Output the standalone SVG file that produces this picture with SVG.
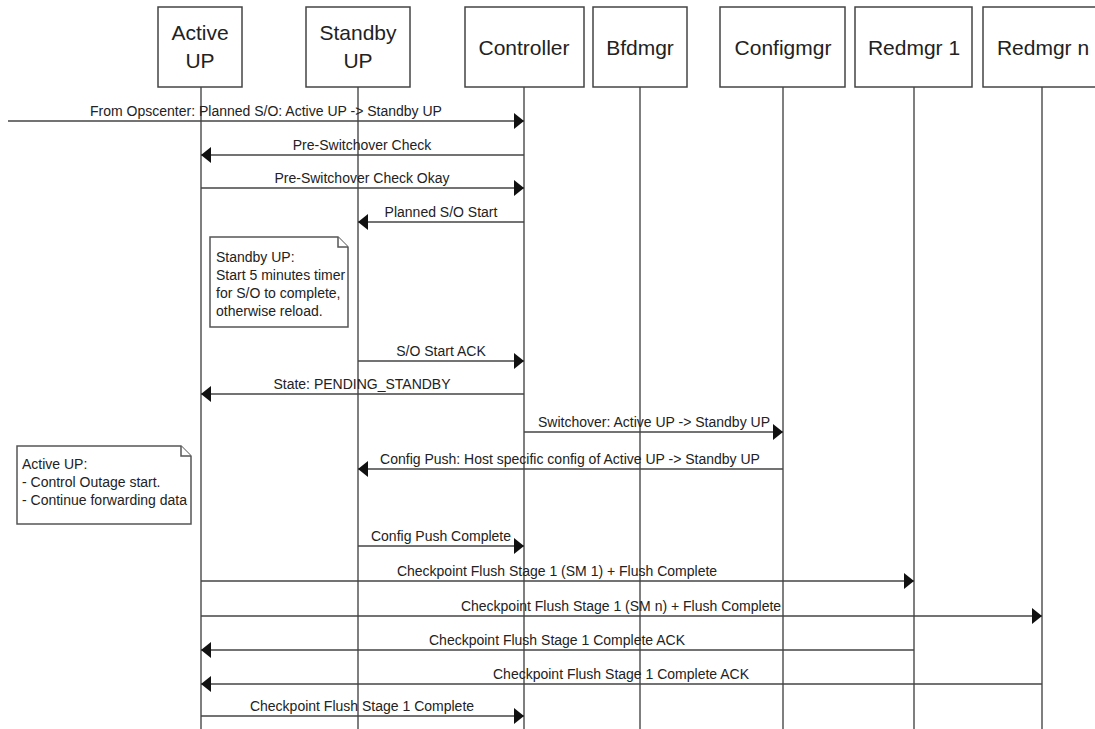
<svg xmlns="http://www.w3.org/2000/svg" width="1095" height="729" viewBox="0 0 1095 729">
<style>
.box{fill:#fff;stroke:#444;stroke-width:1.5}
.life{stroke:#555;stroke-width:1.5;fill:none}
.hdr{font-family:"Liberation Sans",Arial,sans-serif;font-size:21px;fill:#222;text-anchor:middle}
.msg{stroke:#444;stroke-width:1.6;fill:none;marker-end:url(#ah)}
.lbl{font-family:"Liberation Sans",Arial,sans-serif;font-size:14px;fill:#222;text-anchor:middle}
.note{fill:#fff;stroke:#555;stroke-width:1.5}
.ntxt{font-family:"Liberation Sans",Arial,sans-serif;font-size:14px;fill:#222}
</style>
<defs>
<marker id="ah" markerUnits="userSpaceOnUse" markerWidth="11" markerHeight="17" refX="10" refY="8" orient="auto">
<path d="M0,0 L10,8 L0,16 Z" fill="#111"/>
</marker>
</defs>
<rect width="1095" height="729" fill="#fff"/>
<g id="lifelines">
<line class="life" x1="201" y1="87" x2="201" y2="729"/>
<line class="life" x1="358" y1="87" x2="358" y2="729"/>
<line class="life" x1="524" y1="87" x2="524" y2="729"/>
<line class="life" x1="640" y1="87" x2="640" y2="729"/>
<line class="life" x1="783" y1="87" x2="783" y2="729"/>
<line class="life" x1="914" y1="87" x2="914" y2="729"/>
<line class="life" x1="1042" y1="87" x2="1042" y2="729"/>
</g>
<g id="node-active-up">
<rect class="box" x="158" y="7" width="84" height="80"/>
<text class="hdr" x="200" y="40">Active</text>
<text class="hdr" x="200" y="68">UP</text>
</g>
<g id="node-standby-up">
<rect class="box" x="306" y="7" width="104" height="80"/>
<text class="hdr" x="358" y="40">Standby</text>
<text class="hdr" x="358" y="68">UP</text>
</g>
<g id="node-controller">
<rect class="box" x="465" y="7" width="119" height="80"/>
<text class="hdr" x="524" y="55">Controller</text>
</g>
<g id="node-bfdmgr">
<rect class="box" x="593" y="7" width="94" height="80"/>
<text class="hdr" x="640" y="55">Bfdmgr</text>
</g>
<g id="node-configmgr">
<rect class="box" x="720" y="7" width="125" height="80"/>
<text class="hdr" x="783" y="55">Configmgr</text>
</g>
<g id="node-redmgr1">
<rect class="box" x="855" y="7" width="117" height="80"/>
<text class="hdr" x="914" y="55">Redmgr 1</text>
</g>
<g id="node-redmgrn">
<rect class="box" x="983" y="7" width="118" height="80"/>
<text class="hdr" x="1043" y="55">Redmgr n</text>
</g>
<g id="note-standby">
<path class="note" d="M210,237 H338 L348,247 V327 H210 Z"/>
<path class="note" d="M338,237 V247 H348" fill="none"/>
<text class="ntxt" x="216" y="262">Standby UP:</text>
<text class="ntxt" x="216" y="280">Start 5 minutes timer</text>
<text class="ntxt" x="216" y="298">for S/O to complete,</text>
<text class="ntxt" x="216" y="316">otherwise reload.</text>
</g>
<g id="note-active">
<path class="note" d="M17,446 H181 L191,456 V524 H17 Z"/>
<path class="note" d="M181,446 V456 H191" fill="none"/>
<text class="ntxt" x="22" y="469">Active UP:</text>
<text class="ntxt" x="22" y="487">- Control Outage start.</text>
<text class="ntxt" x="22" y="505">- Continue forwarding data</text>
</g>
<g id="connectors">
<line class="msg" x1="8" y1="121" x2="524" y2="121"/>
<text class="lbl" x="266" y="116">From Opscenter: Planned S/O: Active UP -&gt; Standby UP</text>
<line class="msg" x1="524" y1="155" x2="201" y2="155"/>
<text class="lbl" x="362" y="150">Pre-Switchover Check</text>
<line class="msg" x1="201" y1="188" x2="524" y2="188"/>
<text class="lbl" x="362" y="183">Pre-Switchover Check Okay</text>
<line class="msg" x1="524" y1="222" x2="358" y2="222"/>
<text class="lbl" x="441" y="217">Planned S/O Start</text>
<line class="msg" x1="358" y1="361" x2="524" y2="361"/>
<text class="lbl" x="441" y="356">S/O Start ACK</text>
<line class="msg" x1="524" y1="394" x2="201" y2="394"/>
<text class="lbl" x="362" y="389">State: PENDING_STANDBY</text>
<line class="msg" x1="524" y1="432" x2="783" y2="432"/>
<text class="lbl" x="654" y="427">Switchover: Active UP -&gt; Standby UP</text>
<line class="msg" x1="783" y1="469" x2="358" y2="469"/>
<text class="lbl" x="570" y="464">Config Push: Host specific config of Active UP -&gt; Standby UP</text>
<line class="msg" x1="358" y1="546" x2="524" y2="546"/>
<text class="lbl" x="441" y="541">Config Push Complete</text>
<line class="msg" x1="201" y1="581" x2="914" y2="581"/>
<text class="lbl" x="557" y="576">Checkpoint Flush Stage 1 (SM 1) + Flush Complete</text>
<line class="msg" x1="201" y1="616" x2="1042" y2="616"/>
<text class="lbl" x="621" y="611">Checkpoint Flush Stage 1 (SM n) + Flush Complete</text>
<line class="msg" x1="914" y1="650" x2="201" y2="650"/>
<text class="lbl" x="557" y="645">Checkpoint Flush Stage 1 Complete ACK</text>
<line class="msg" x1="1042" y1="684" x2="201" y2="684"/>
<text class="lbl" x="621" y="679">Checkpoint Flush Stage 1 Complete ACK</text>
<line class="msg" x1="201" y1="716" x2="524" y2="716"/>
<text class="lbl" x="362" y="711">Checkpoint Flush Stage 1 Complete</text>
</g>
</svg>
